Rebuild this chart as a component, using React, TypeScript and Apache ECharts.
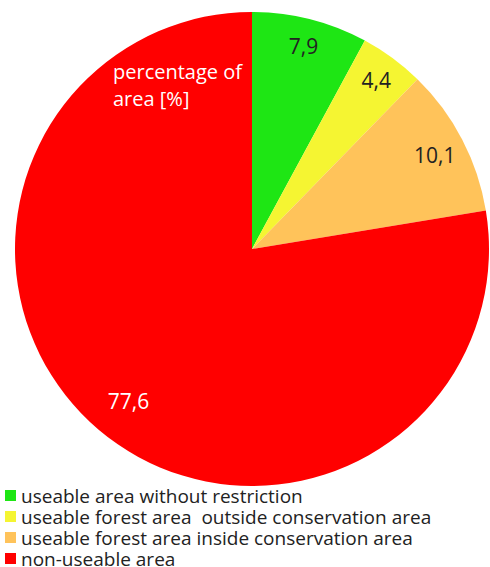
import React, { useEffect, useRef } from "react";
import * as echarts from "echarts";

const categories = [
  "useable area without restriction",
  "useable forest area  outside conservation area",
  "useable forest area inside conservation area",
  "non-useable area",
];
const values = [7.9, 4.4, 10.1, 77.6];
const colors = ["#1ee614", "#f5f532", "#ffc35a", "#ff0000"];
const labelColors = ["#222222", "#222222", "#222222", "#ffffff"];
const centerNote = "percentage of\narea [%]";

export default function App() {
  const ref = useRef<HTMLDivElement>(null);
  useEffect(() => {
    if (!ref.current) return;
    const chart = echarts.init(ref.current, null, { renderer: "svg" });
    const fmt = (v: number) => v.toFixed(1).replace(".", ",");
    chart.setOption({
      animation: false,
      backgroundColor: "#ffffff",
      legend: {
        orient: "vertical",
        left: 5,
        top: 485,
        height: 200,
        padding: 0,
        icon: "rect",
        itemWidth: 11,
        itemHeight: 11,
        itemGap: 0,
        selectedMode: false,
        textStyle: {
          fontFamily: "Open Sans",
          fontSize: 19,
          lineHeight: 21,
          height: 21,
          color: "#222222",
        },
        data: categories.map((c, i) => ({ name: c, itemStyle: { color: colors[i] } })),
      },
      graphic: [
        {
          type: "text",
          left: 113,
          top: 58,
          style: {
            text: centerNote,
            fill: "#ffffff",
            font: "20px 'Open Sans'",
            lineHeight: 27,
          },
          z: 100,
        },
      ],
      series: [
        {
          type: "pie",
          center: [252, 249],
          radius: [0, 237],
          startAngle: 90,
          clockwise: true,
          label: { show: false },
          labelLine: { show: false },
          emphasis: { disabled: true },
          data: categories.map((c, i) => ({
            name: c,
            value: values[i],
            itemStyle: { color: colors[i] },
          })),
        },
        {
          type: "pie",
          center: [252, 249],
          radius: [176, 237],
          startAngle: 90,
          clockwise: true,
          silent: true,
          emphasis: { disabled: true },
          labelLine: { show: false },
          label: {
            show: true,
            position: "inside",
            fontFamily: "Open Sans",
            fontSize: 21,
          },
          data: categories.map((c, i) => ({
            name: c,
            value: values[i],
            itemStyle: { color: "rgba(0,0,0,0)" },
            label: {
              color: labelColors[i],
              formatter: fmt(values[i]),
              offset: i === 3 ? [12, -8] : i === 2 ? [-3, 3] : [0, 0],
            },
          })),
        },
      ],
    });
    return () => chart.dispose();
  }, []);
  return (
    <div
      ref={ref}
      style={{ position: "fixed", left: 0, top: 0, width: 490, height: 567 }}
    />
  );
}
